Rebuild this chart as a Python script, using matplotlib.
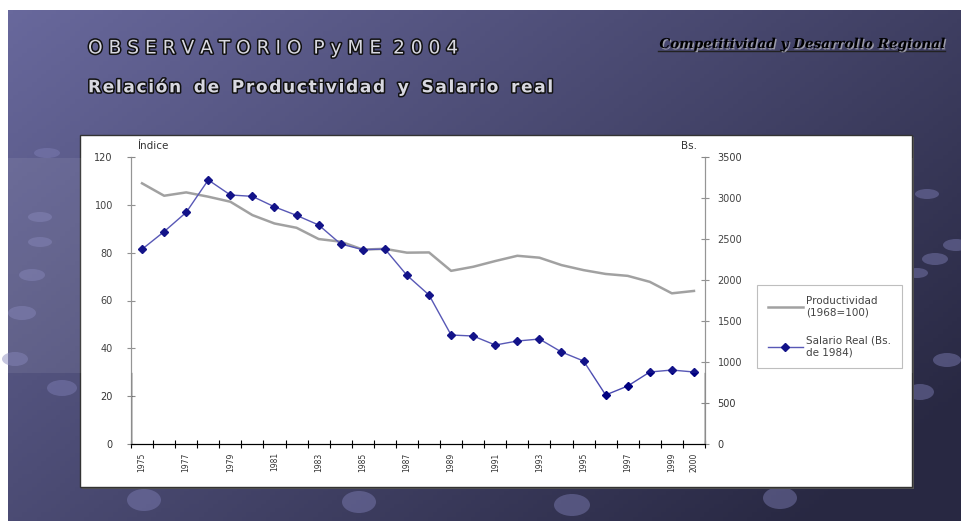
import numpy as np
import matplotlib
matplotlib.use('Agg')
import matplotlib.pyplot as plt
import matplotlib.patheffects as pe
from matplotlib.patches import Rectangle, Ellipse

# Datos
years = list(range(1975, 2001))
productividad = [109.0, 103.8, 105.2, 103.4, 101.3, 95.7, 92.2, 90.4, 85.7, 84.6,
                 81.3, 81.6, 80.0, 80.1, 72.4, 74.1, 76.5, 78.7, 77.9, 74.8,
                 72.7, 71.1, 70.3, 67.8, 63.0, 64.0]
salario = [2375, 2590, 2825, 3220, 3037, 3020, 2892, 2788, 2671, 2439,
           2370, 2378, 2057, 1817, 1329, 1317, 1207, 1256, 1280, 1122,
           1012, 598, 707, 878, 902, 878]
year_labels = [str(y) if (y % 2 == 1 or y == 2000) else '' for y in years]
left_ticks = [0, 20, 40, 60, 80, 100, 120]
right_ticks = [0, 500, 1000, 1500, 2000, 2500, 3000, 3500]

W, H = 962, 521
fig = plt.figure(figsize=(W / 100, H / 100), dpi=100, facecolor='white')


def fx(x):
    return x / W


def fy(y):
    return 1 - y / H


def spaced(s, gap='\u200a', word='\u2009 \u2009'):
    return word.join(gap.join(w) for w in s.split(' '))


# Fondo de la diapositiva (degradado)
bg = fig.add_axes([0, 0, 1, 1], zorder=-10)
bg.set_xlim(0, W)
bg.set_ylim(H, 0)
bg.axis('off')
gx, gy = np.meshgrid(np.linspace(0, 1, 200), np.linspace(0, 1, 120))
t = np.clip(0.65 * gx + 0.45 * gy, 0, 1)[..., None]
c0 = np.array([104, 104, 156]) / 255
c1 = np.array([40, 40, 66]) / 255
grad = c0 + (c1 - c0) * t
bg.imshow(grad, extent=(8, W, H, 10), aspect='auto', zorder=0)
for (ex, ey, ew, eh) in [(47, 153, 26, 10), (40, 217, 24, 10), (40, 242, 24, 10),
                         (32, 275, 26, 12), (22, 313, 28, 14), (15, 359, 26, 14),
                         (62, 388, 30, 16), (144, 500, 34, 22), (359, 502, 34, 22),
                         (572, 505, 36, 22), (780, 498, 34, 22), (927, 194, 24, 10),
                         (956, 245, 26, 12), (935, 259, 26, 12), (917, 273, 22, 10),
                         (947, 360, 28, 14), (920, 392, 28, 16)]:
    bg.add_patch(Ellipse((ex, ey), ew, eh, facecolor=(0.5, 0.5, 0.72),
                         alpha=0.45, edgecolor='none', zorder=1))

# Caja blanca del grafico
bg.add_patch(Rectangle((82, 137), 832, 352, facecolor='#555555', edgecolor='none', zorder=2))
bg.add_patch(Rectangle((80, 135), 832, 352, facecolor='white', edgecolor='#333333',
                       linewidth=1, zorder=3))

# Titulos
title_fx = [pe.withStroke(linewidth=2.2, foreground='#111111')]
fig.text(fx(88), fy(48), spaced('OBSERVATORIO PyME 2004', gap=' ', word='  '),
         fontsize=13.4, color='#d8d8e0', va='center', ha='left', path_effects=title_fx)
fig.text(fx(88), fy(87), spaced('Relación de Productividad y Salario real'),
         fontsize=12.2, fontweight='bold', color='#d8d8e0', va='center', ha='left',
         path_effects=title_fx)
fig.text(fx(945), fy(44), 'Competitividad y Desarrollo Regional', family='DejaVu Serif',
         fontsize=9.8, fontweight='bold', style='italic', color='black', va='center', ha='right',
         path_effects=[pe.withSimplePatchShadow(offset=(1, -1), shadow_rgbFace='#9a9aa8', alpha=1)])
bg.plot([658, 945], [51, 51], color='#222222', linewidth=1, zorder=4)

# Ejes
ax = fig.add_axes([fx(131), fy(444), fx(705) - fx(131), fy(157) - fy(444)], facecolor='none')
ax2 = ax.twinx()
x = np.arange(len(years))

l1, = ax.plot(x, productividad, color='#9a9a9a', linewidth=1.8, zorder=3)
l2, = ax2.plot(x, salario, color='#4a4ab0', linewidth=1, marker='D', markersize=4.5,
               markerfacecolor='#000080', markeredgecolor='#000080', zorder=4)

ax.set_ylim(0, 120)
ax2.set_ylim(0, 3500)
ax.set_xlim(-0.5, len(years) - 0.5)
ax.set_yticks(left_ticks)
ax.set_yticklabels([str(v) for v in left_ticks])
ax2.set_yticks(right_ticks)
ax2.set_yticklabels([str(v) for v in right_ticks])

ax.set_xticks(np.arange(-0.5, len(years)), labels=[])
ax.set_xticks(x, labels=year_labels, minor=True)
ax.tick_params(axis='x', which='major', direction='inout', length=6, width=0.8, color='black')
ax.tick_params(axis='x', which='minor', length=0, labelsize=5.5, labelrotation=90,
               labelcolor='#333333', pad=6)
ax.tick_params(axis='y', direction='inout', length=6, width=0.8, color='#888888',
               labelsize=7, labelcolor='#333333', pad=10)
ax2.tick_params(axis='y', direction='inout', length=6, width=0.8, color='#888888',
                labelsize=7, labelcolor='#333333', pad=6)

for a in (ax, ax2):
    a.spines['top'].set_visible(False)
    a.spines['left'].set_color('#8c8c8c')
    a.spines['right'].set_color('#8c8c8c')
    a.spines['bottom'].set_color('black')
    a.patch.set_visible(False)
# parte inferior de los ejes en negro
ax.axvline(-0.5, ymin=0, ymax=29.7 / 120, color='black', linewidth=1, zorder=5)
ax.axvline(len(years) - 0.5, ymin=0, ymax=29.7 / 120, color='black', linewidth=1, zorder=5)

fig.text(fx(137), fy(146), 'Índice', fontsize=7.5, color='#333333', va='center', ha='left')
fig.text(fx(697), fy(146), 'Bs.', fontsize=7.5, color='#333333', va='center', ha='right')

leg = fig.legend([l1, l2], ['Productividad\n(1968=100)', 'Salario Real (Bs.\nde 1984)'],
                 loc='upper left', bbox_to_anchor=(fx(752), fy(280)), fontsize=7.5,
                 frameon=True, fancybox=False, edgecolor='#a8a8a8', handlelength=3.4,
                 labelspacing=1.8, borderpad=1.0, handletextpad=0.3)
leg.get_frame().set_linewidth(0.8)
for txt in leg.get_texts():
    txt.set_color('#333333')

# velo claro sobre la parte superior (como en la imagen original)
bg2 = fig.add_axes([0, 0, 1, 1], zorder=20)
bg2.set_xlim(0, W)
bg2.set_ylim(H, 0)
bg2.axis('off')
bg2.add_patch(Rectangle((8, 158), 905, 215, facecolor='white', alpha=0.08, edgecolor='none'))

fig.savefig('out.png', dpi=100, facecolor=fig.get_facecolor())
